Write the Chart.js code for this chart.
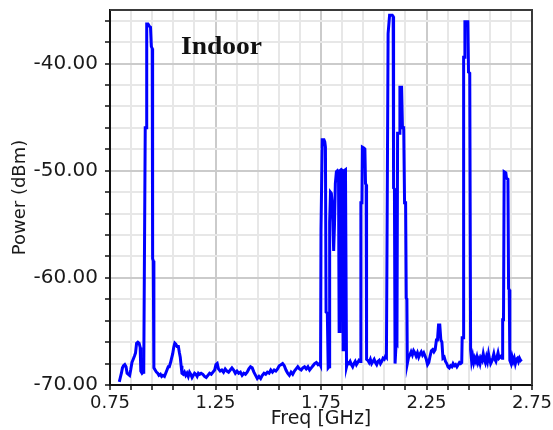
<!DOCTYPE html>
<html lang="en">
<head>
<meta charset="UTF-8">
<title>Indoor spectrum</title>
<script src="https://cdn.jsdelivr.net/npm/chart.js"></script>
<style>
  html, body { margin: 0; padding: 0; background: #fff; }
  #spectrum { display: block; }
</style>
</head>
<body>
<canvas id="spectrum" width="553" height="430"></canvas>
<script>
const freqGHz = [
  0.794, 0.799, 0.804, 0.809, 0.814, 0.820, 0.826, 0.831, 0.837, 0.843, 0.848, 0.854, 0.860, 0.866, 0.871, 0.876,
  0.882, 0.888, 0.893, 0.896, 0.902, 0.907, 0.910,
  0.913, 0.917, 0.921, 0.924, 0.930, 0.936, 0.942, 0.946, 0.950, 0.952, 0.955, 0.958,
  0.964, 0.970, 0.976, 0.982, 0.989, 0.995, 1.001, 1.008, 1.014, 1.020, 1.026, 1.031, 1.037, 1.042, 1.047, 1.052,
  1.057, 1.062, 1.068, 1.074, 1.079, 1.083, 1.087, 1.091, 1.097, 1.103, 1.109, 1.115, 1.121, 1.127, 1.133, 1.139,
  1.145, 1.151, 1.157, 1.163, 1.169, 1.175,
  1.182, 1.190, 1.198, 1.206, 1.214, 1.222, 1.230, 1.238, 1.246, 1.252, 1.258, 1.264, 1.272, 1.280, 1.288, 1.296,
  1.304, 1.312, 1.320, 1.328, 1.336, 1.344, 1.352, 1.360, 1.368, 1.376, 1.384, 1.392, 1.400, 1.408, 1.416, 1.424,
  1.432, 1.440, 1.448, 1.456, 1.464, 1.472, 1.480, 1.488, 1.496, 1.504, 1.512, 1.520, 1.528, 1.536, 1.544, 1.552,
  1.560, 1.568, 1.576, 1.584, 1.592, 1.600, 1.608, 1.616, 1.624, 1.632, 1.640, 1.648, 1.656, 1.664, 1.672, 1.680,
  1.688, 1.696, 1.704, 1.712, 1.720, 1.728, 1.736, 1.743, 1.748,
  1.750, 1.754, 1.756, 1.764, 1.768, 1.771, 1.774, 1.780, 1.784, 1.788, 1.791, 1.795, 1.799, 1.803, 1.806, 1.810,
  1.814, 1.818, 1.823, 1.828, 1.833, 1.836, 1.840, 1.846, 1.851, 1.855, 1.859, 1.866, 1.871,
  1.876, 1.882, 1.888, 1.894, 1.900, 1.906, 1.912, 1.918, 1.924, 1.930, 1.936,
  1.939, 1.944, 1.946, 1.954, 1.958, 1.961, 1.964, 1.966,
  1.972, 1.978, 1.984, 1.990, 1.996, 2.002, 2.008, 2.014, 2.020, 2.026, 2.032, 2.038, 2.044, 2.050, 2.056, 2.060,
  2.063, 2.066, 2.068, 2.072, 2.075, 2.088, 2.092, 2.094, 2.098, 2.101, 2.104, 2.106, 2.110, 2.113, 2.120, 2.124,
  2.132, 2.136, 2.142, 2.146, 2.151, 2.154, 2.157, 2.159,
  2.165, 2.171, 2.177, 2.183, 2.189, 2.195, 2.201, 2.207, 2.213, 2.219, 2.225, 2.231, 2.237, 2.243, 2.249, 2.255,
  2.261, 2.267, 2.273, 2.279, 2.285, 2.291, 2.297, 2.302, 2.307, 2.313, 2.318, 2.323, 2.328, 2.334, 2.340, 2.346,
  2.352, 2.358, 2.364, 2.370, 2.376, 2.382, 2.388, 2.394, 2.400, 2.406, 2.412, 2.417,
  2.419, 2.423, 2.426, 2.430, 2.432, 2.446, 2.449, 2.455, 2.459,
  2.464, 2.469, 2.474, 2.479, 2.484, 2.489, 2.494, 2.499, 2.504, 2.509, 2.514, 2.519, 2.524, 2.529, 2.534, 2.539,
  2.544, 2.549, 2.554, 2.559, 2.564, 2.569, 2.574, 2.579, 2.584, 2.589, 2.594, 2.599, 2.604, 2.609,
  2.611, 2.615, 2.618, 2.626, 2.629, 2.636, 2.639, 2.642, 2.645,
  2.651, 2.656, 2.661, 2.666, 2.671, 2.676, 2.681, 2.686, 2.691, 2.696, 2.701
];

const powerDbm = [
  -69.7, -69.3, -68.9, -68.4, -68.2, -68.1, -68.3, -68.9, -69.0, -69.1, -68.6, -67.9, -67.6, -67.3, -67.0, -66.1,
  -66.0, -66.1, -66.5, -68.7, -68.9, -68.8, -68.6,
  -58.8, -46.0, -46.0, -36.3, -36.3, -36.5, -36.6, -38.4, -38.6, -58.2, -58.4, -68.4,
  -68.6, -68.8, -68.9, -69.1, -69.0, -69.2, -69.1, -69.2, -68.9, -68.6, -68.3, -68.3, -67.9, -67.5, -67.1, -66.5,
  -66.1, -66.2, -66.4, -66.4, -67.0, -67.4, -68.2, -68.9, -69.0, -68.8, -69.1, -68.9, -69.2, -68.8, -69.0, -69.3,
  -69.1, -68.9, -69.0, -69.2, -68.9, -69.0,
  -68.9, -69.0, -69.2, -69.3, -69.1, -68.9, -69.0, -68.8, -68.6, -68.1, -68.0, -68.5, -68.7, -68.6, -68.8, -68.5,
  -68.7, -68.8, -68.6, -68.4, -68.6, -68.9, -68.7, -68.9, -68.8, -69.1, -68.9, -69.0, -68.8, -68.5, -68.3, -68.4,
  -68.8, -69.1, -69.4, -69.2, -69.4, -69.1, -68.9, -69.0, -68.8, -68.9, -68.6, -68.8, -68.6, -68.7, -68.5, -68.2,
  -68.1, -68.0, -68.2, -68.6, -68.9, -69.1, -68.8, -69.0, -68.7, -68.5, -68.3, -68.5, -68.6, -68.4, -68.3, -68.5,
  -68.3, -68.6, -68.4, -68.2, -68.0, -67.9, -68.1, -68.0, -68.2,
  -55.5, -55.5, -47.1, -47.1, -47.3, -47.8, -63.2, -63.3, -68.4, -68.3, -54.8, -52.0, -52.1, -53.0, -54.5, -57.5,
  -55.0, -51.2, -50.1, -50.0, -50.2, -65.0, -50.0, -49.9, -50.0, -66.7, -50.0, -49.9, -68.3,
  -67.9, -68.0, -67.8, -68.1, -68.3, -68.0, -67.8, -68.1, -67.9, -67.7, -67.8,
  -53.0, -53.0, -47.8, -47.9, -48.0, -51.2, -51.3, -67.6,
  -67.7, -67.9, -67.6, -68.0, -67.8, -67.6, -67.9, -68.1, -67.8, -67.7, -68.0, -67.8, -67.5, -67.6, -67.3, -67.4,
  -56.5, -56.5, -37.2, -37.2, -35.5, -35.5, -35.6, -51.6, -51.7, -68.0, -68.0, -66.1, -66.2, -46.5, -46.5, -42.2,
  -42.2, -46.0, -46.0, -53.0, -53.0, -61.9, -62.0, -68.0,
  -67.4, -67.2, -66.9, -67.2, -66.8, -67.0, -67.3, -67.0, -67.4, -67.1, -66.9, -67.2, -67.0, -67.3, -67.6, -68.1,
  -67.9, -67.3, -66.8, -66.7, -66.9, -66.7, -65.8, -65.8, -64.4, -64.4, -65.8, -66.0, -67.5, -67.4, -67.8, -68.0,
  -68.3, -68.4, -68.2, -68.3, -68.0, -68.2, -68.1, -68.3, -68.1, -67.9, -68.0, -67.9,
  -65.6, -65.6, -39.4, -39.4, -36.1, -36.1, -40.8, -40.9, -66.7,
  -67.8, -67.3, -67.9, -67.5, -67.8, -67.4, -67.9, -67.6, -68.0, -67.5, -67.7, -67.1, -67.6, -67.9, -67.4, -67.8,
  -67.1, -67.6, -68.0, -67.8, -67.5, -67.1, -67.6, -67.8, -67.4, -67.0, -67.5, -67.4, -67.3, -67.5,
  -63.9, -63.9, -50.1, -50.2, -50.7, -50.8, -61.0, -61.1, -67.7,
  -68.0, -67.4, -67.8, -67.5, -68.0, -67.6, -67.5, -67.8, -67.5, -67.7, -67.6
];

// axis grid positions and labelled ticks
const xGridGHz = [0.75, 0.85, 0.95, 1.05, 1.15, 1.25, 1.35, 1.45, 1.55, 1.65, 1.75,
                  1.85, 1.95, 2.05, 2.15, 2.25, 2.35, 2.45, 2.55, 2.65, 2.75];
const xTickLabels = ['0.75', '1.25', '1.75', '2.25', '2.75'];
const yGridDbm = [-70, -68, -66, -64, -62, -60, -58, -56, -54, -52, -50,
                  -48, -46, -44, -42, -40, -38, -36];
const yTickLabels = ['-70.00', '-60.00', '-50.00', '-40.00'];

const MAJOR_GRID = '#cbcbcb';
const MINOR_GRID = '#e7e7e7';

function xLabel(v) {
  const s = v.toFixed(2);
  return xTickLabels.includes(s) ? s : '';
}
function yLabel(v) {
  const s = v.toFixed(2);
  return yTickLabels.includes(s) ? s : '';
}

// top + right frame and the "Indoor" note
const framePlugin = {
  id: 'frame',
  afterDatasetsDraw(chart) {
    const { ctx, chartArea: a } = chart;
    ctx.save();
    ctx.strokeStyle = '#3a3a3a';
    ctx.lineWidth = 2;
    ctx.beginPath();
    ctx.moveTo(a.left, a.top);
    ctx.lineTo(a.right, a.top);
    ctx.lineTo(a.right, a.bottom);
    ctx.stroke();

    ctx.fillStyle = '#111';
    ctx.font = 'bold 25px "Liberation Serif"';
    ctx.textBaseline = 'alphabetic';
    ctx.translate(181, 54);
    ctx.scale(1.1, 1);
    ctx.fillText('Indoor', 0, 0);
    ctx.restore();
  }
};

Chart.defaults.font.family = '"DejaVu Sans"';
Chart.defaults.color = '#1a1a1a';

const ctx = document.getElementById('spectrum').getContext('2d');
new Chart(ctx, {
  type: 'line',
  data: {
    datasets: [{
      data: freqGHz.map((f, i) => ({ x: f, y: powerDbm[i] })),
      borderColor: '#0000ff',
      borderWidth: 3,
      pointRadius: 0,
      tension: 0,
      fill: false
    }]
  },
  options: {
    responsive: false,
    animation: false,
    layout: { padding: { top: 10, right: 21, left: 0, bottom: 0 } },
    plugins: {
      legend: { display: false },
      tooltip: { enabled: false }
    },
    scales: {
      x: {
        type: 'linear',
        min: 0.75,
        max: 2.75,
        afterBuildTicks: s => { s.ticks = xGridGHz.map(v => ({ value: v })); },
        afterFit: s => { s.height = 45; s.paddingLeft = 0; s.paddingRight = 0; },
        ticks: {
          autoSkip: false,
          maxRotation: 0,
          padding: 3,
          font: { size: 18 },
          callback: v => xLabel(v)
        },
        grid: {
          color: c => (xLabel(c.tick.value) ? MAJOR_GRID : MINOR_GRID),
          lineWidth: 2,
          tickLength: 5,
          tickColor: '#111',
          tickWidth: 1.5
        },
        border: { color: '#111', width: 2 },
        title: {
          display: true,
          text: 'Freq [GHz]',
          font: { size: 19 },
          padding: 0
        }
      },
      y: {
        type: 'linear',
        min: -70,
        max: -35,
        afterBuildTicks: s => { s.ticks = yGridDbm.map(v => ({ value: v })); },
        afterFit: s => { s.width = 110; s.paddingTop = 0; s.paddingBottom = 0; },
        ticks: {
          autoSkip: false,
          padding: 7,
          font: { size: 20 },
          callback: v => yLabel(v)
        },
        grid: {
          color: c => (yLabel(c.tick.value) ? MAJOR_GRID : MINOR_GRID),
          lineWidth: 2,
          tickLength: 5,
          tickColor: '#111',
          tickWidth: 1.5
        },
        border: { color: '#111', width: 2 },
        title: {
          display: true,
          text: 'Power (dBm)',
          font: { size: 18 },
          padding: { top: 10, bottom: 0 }
        }
      }
    }
  },
  plugins: [framePlugin]
});
</script>
</body>
</html>
